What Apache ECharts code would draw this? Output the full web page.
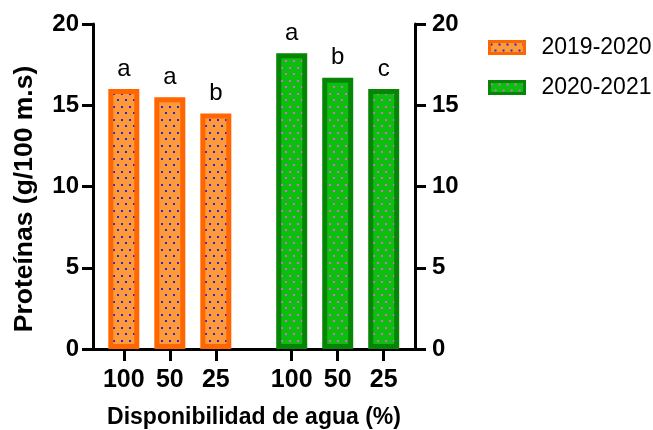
<!DOCTYPE html>
<html>
<head>
<meta charset="utf-8">
<script src="https://cdn.jsdelivr.net/npm/echarts@6/dist/echarts.min.js"></script>
<style>html,body{margin:0;padding:0;background:#fff}#c{width:653px;height:430px}</style>
</head>
<body>
<div id="c"></div>
<script>
// ---- data ----
var seasons = ['2019-2020', '2020-2021'];
var waterLabels = ['100', '50', '25'];
var values2019 = [16.0, 15.5, 14.5];
var values2020 = [18.2, 16.7, 16.0];
var letters2019 = ['a', 'a', 'b'];
var letters2020 = ['a', 'b', 'c'];
var yTicks = [0, 5, 10, 15, 20];

// group placement on a numeric x scale (group 2 offset leaves a gap)
var groupOffset = 3.65;
var pos2019 = waterLabels.map(function (_, i) { return i; });
var pos2020 = waterLabels.map(function (_, i) { return i + groupOffset; });
var allPos = pos2019.concat(pos2020);
var allLabels = waterLabels.concat(waterLabels);

function dotPattern(bg, dot) {
  var c = document.createElement('canvas');
  c.width = 8; c.height = 13;
  var g = c.getContext('2d');
  g.fillStyle = bg; g.fillRect(0, 0, 8, 13);
  g.fillStyle = dot;
  g.fillRect(1, 2, 2, 2);
  g.fillRect(5, 8, 2, 2);
  return { image: c, repeat: 'repeat' };
}

var FONT = 'Liberation Sans, Arial, sans-serif';
var chart = echarts.init(document.getElementById('c'));

function yAxisCfg(pos, margin) {
  return {
    type: 'value', position: pos, min: 0, max: yTicks[yTicks.length - 1], interval: yTicks[1] - yTicks[0],
    axisLine: { show: true, onZero: false, lineStyle: { color: '#000', width: 3 } },
    axisTick: { show: true, inside: false, length: 11, lineStyle: { color: '#000', width: 3 } },
    axisLabel: { color: '#000', fontFamily: FONT, fontWeight: 'bold', fontSize: 24, margin: margin },
    splitLine: { show: false }
  };
}

var left = yAxisCfg('left', 14);
left.name = 'Proteínas (g/100 m.s)';
left.nameLocation = 'middle';
left.nameGap = 55;
left.nameTextStyle = { color: '#000', fontFamily: FONT, fontWeight: 'bold', fontSize: 26.5, padding: [0, 25, 0, 0] };
var right = yAxisCfg('right', 17);

chart.setOption({
  animation: false,
  grid: { left: 93, right: 238, top: 24, bottom: 81, containLabel: false, outerBoundsMode: 'none' },
  legend: {
    orient: 'vertical', left: 483, top: 31, icon: 'rect',
    itemWidth: 35, itemHeight: 12, itemGap: 17,
    itemStyle: { borderWidth: 3 },
    textStyle: { color: '#000', fontFamily: FONT, fontSize: 23, padding: [0, 0, 0, 12], lineHeight: 23 },
    data: seasons
  },
  xAxis: {
    type: 'value', min: -0.67, max: 6.33,
    name: 'Disponibilidad de agua (%)', nameLocation: 'middle', nameGap: 57,
    nameTextStyle: { color: '#000', fontFamily: FONT, fontWeight: 'bold', fontSize: 23 },
    axisLine: { show: true, onZero: false, lineStyle: { color: '#000', width: 3 } },
    axisTick: { show: true, length: 12, customValues: allPos, lineStyle: { color: '#000', width: 3 } },
    axisLabel: {
      color: '#000', fontFamily: FONT, fontWeight: 'bold', fontSize: 25, margin: 19,
      customValues: allPos,
      formatter: function (v) {
        for (var i = 0; i < allPos.length; i++) if (Math.abs(allPos[i] - v) < 1e-6) return allLabels[i];
        return '';
      }
    },
    splitLine: { show: false }
  },
  yAxis: [left, right],
  series: [
    {
      name: seasons[0], type: 'bar', barWidth: 31, barGap: '-100%',
      data: pos2019.map(function (p, i) { return [p, values2019[i]]; }),
      itemStyle: { color: dotPattern('#FF9A3A', '#2626E6'), borderColor: '#FF6600', borderWidth: 5 },
      label: {
        show: true, position: 'top', distance: 8, color: '#000', fontFamily: FONT, fontSize: 24,
        formatter: function (p) { return letters2019[p.dataIndex]; }
      }
    },
    {
      name: seasons[1], type: 'bar', barWidth: 31, barGap: '-100%',
      data: pos2020.map(function (p, i) { return [p, values2020[i]]; }),
      itemStyle: { color: dotPattern('#0CBF0C', '#E060E0'), borderColor: '#078507', borderWidth: 5 },
      label: {
        show: true, position: 'top', distance: 8, color: '#000', fontFamily: FONT, fontSize: 24,
        formatter: function (p) { return letters2020[p.dataIndex]; }
      }
    }
  ]
});
</script>
</body>
</html>
